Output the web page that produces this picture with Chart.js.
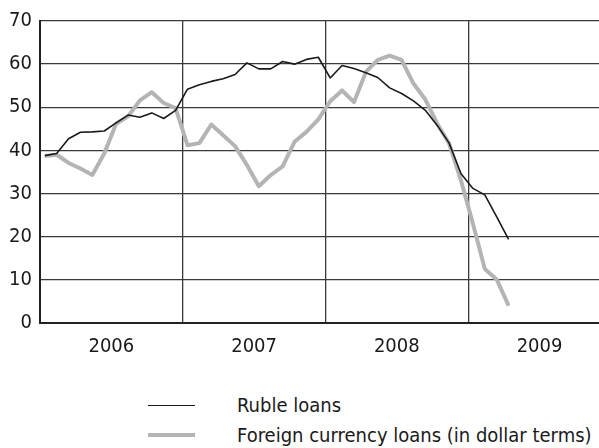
<!DOCTYPE html>
<html>
<head>
<meta charset="utf-8">
<script src="https://cdn.jsdelivr.net/npm/chart.js@4.4.1/dist/chart.umd.min.js"></script>
<style>
    body { margin: 0; background: #fff; }
    .chart-wrap { position: relative; width: 599px; height: 448px; overflow: hidden; }
    .chart-box { position: absolute; left: 0; top: 0; width: 599px; height: 362px; }
    .legend { position: absolute; left: 148px; top: 390px; font-family: 'Liberation Sans Narrow', 'DejaVu Sans Condensed', sans-serif; font-size: 20px; color: #1a1a1a; }
    .legend-row { display: flex; align-items: center; height: 30px; white-space: nowrap; }
    .legend-swatch { width: 47px; margin-right: 42px; }
</style>
</head>
<body>
<div class="chart-wrap">
    <div class="chart-box"><canvas id="loansChart"></canvas></div>
    <div class="legend" id="legend"></div>
</div>
<script>
// Monthly observations, Jan 2006 - Apr 2009
const months = [
    '2006-01','2006-02','2006-03','2006-04','2006-05','2006-06','2006-07','2006-08','2006-09','2006-10','2006-11','2006-12',
    '2007-01','2007-02','2007-03','2007-04','2007-05','2007-06','2007-07','2007-08','2007-09','2007-10','2007-11','2007-12',
    '2008-01','2008-02','2008-03','2008-04','2008-05','2008-06','2008-07','2008-08','2008-09','2008-10','2008-11','2008-12',
    '2009-01','2009-02','2009-03','2009-04'
];
const rubleLoans = [
    38.8, 39.3, 42.7, 44.2, 44.3, 44.5, 46.4, 48.2, 47.7, 48.7, 47.4, 49.3,
    54.2, 55.2, 56.0, 56.6, 57.6, 60.3, 58.9, 58.9, 60.6, 60.0, 61.1, 61.6,
    56.8, 59.7, 59.0, 58.0, 56.9, 54.5, 53.2, 51.5, 49.3, 45.8, 41.7, 34.6,
    31.2, 29.7, 24.6, 19.4
];
const foreignLoans = [
    38.7, 39.0, 37.1, 35.8, 34.3, 39.3, 46.2, 47.9, 51.6, 53.5, 51.0, 49.8,
    41.2, 41.7, 46.0, 43.5, 41.0, 36.6, 31.7, 34.3, 36.3, 42.0, 44.3, 47.2,
    51.4, 53.9, 51.2, 58.2, 61.0, 62.0, 61.0, 55.5, 51.8, 46.2, 41.6, 33.0,
    23.0, 12.5, 10.1, 4.0
];
const years = ['2006', '2007', '2008', '2009'];
const yTicks = [0, 10, 20, 30, 40, 50, 60, 70];

const FONT = "'Liberation Sans Narrow', 'DejaVu Sans Condensed', sans-serif";
const GRID = '#3a3a3a';

document.addEventListener("DOMContentLoaded", function() {
    // month index from Jan 2006, points sit a little into each month
    const toPoints = values => values.map((v, i) => ({ x: i + 0.4, y: v }));

    const datasets = [
        { label: 'Ruble loans', data: toPoints(rubleLoans), borderColor: '#1a1a1a', borderWidth: 1.6 },
        { label: 'Foreign currency loans (in dollar terms)', data: toPoints(foreignLoans), borderColor: '#b4b4b4', borderWidth: 4 }
    ];

    new Chart(document.getElementById('loansChart'), {
        type: 'line',
        data: { datasets: datasets },
        options: {
            responsive: true, maintainAspectRatio: false, animation: false,
            layout: { padding: { top: 21, right: 0, left: 0, bottom: 0 } },
            elements: { point: { radius: 0 }, line: { tension: 0, borderJoinStyle: 'round' } },
            plugins: { legend: { display: false }, tooltip: { enabled: false } },
            scales: {
                x: {
                    type: 'linear', min: 0, max: 47,
                    afterBuildTicks: axis => { axis.ticks = [0, 6, 12, 18, 24, 30, 36, 42].map(v => ({ value: v })); },
                    afterFit: axis => { axis.height = 39; },
                    ticks: {
                        autoSkip: false, maxRotation: 0, padding: 12, color: '#1a1a1a',
                        font: { family: FONT, size: 20 },
                        callback: v => (v % 12 === 6 ? years[(v - 6) / 12] : '')
                    },
                    // only the year boundaries get a vertical line
                    grid: { drawTicks: false, lineWidth: 1.3, color: ctx => (ctx.tick && ctx.tick.value % 12 === 0 ? GRID : 'rgba(0,0,0,0)') },
                    border: { display: true, color: '#222', width: 2 }
                },
                y: {
                    min: 0, max: 70,
                    afterBuildTicks: axis => { axis.ticks = yTicks.map(v => ({ value: v })); },
                    afterFit: axis => { axis.width = 40; },
                    ticks: { padding: 8, color: '#1a1a1a', font: { family: FONT, size: 20 } },
                    grid: { drawTicks: false, lineWidth: 1.3, color: GRID },
                    border: { display: true, color: '#222', width: 2 }
                }
            }
        }
    });

    // legend under the chart
    const legend = document.getElementById('legend');
    datasets.forEach(ds => {
        legend.innerHTML += `
            <div class="legend-row">
                <div class="legend-swatch" style="border-top:${ds.borderWidth}px solid ${ds.borderColor}"></div>
                <span>${ds.label}</span>
            </div>`;
    });
});
</script>
</body>
</html>
